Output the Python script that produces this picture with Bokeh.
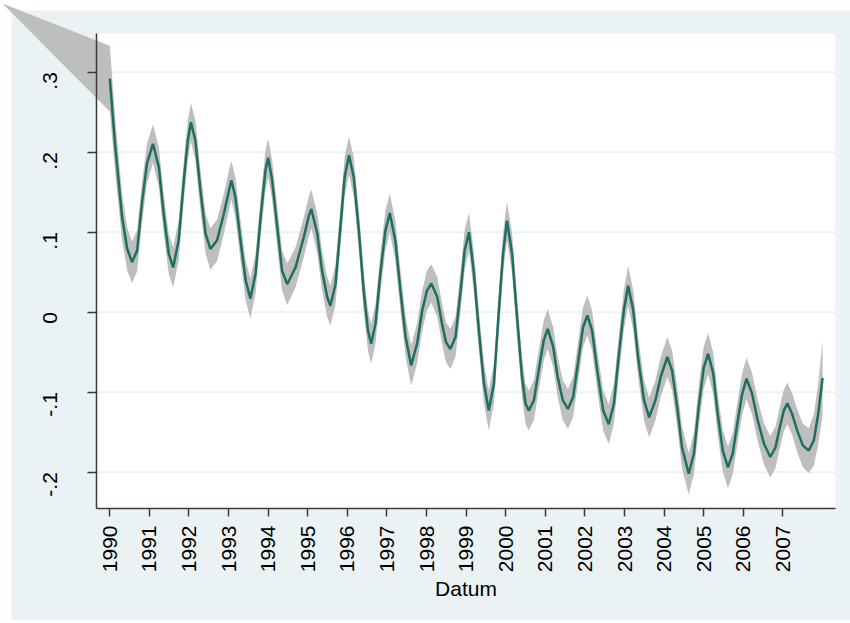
from bokeh.plotting import figure
from bokeh.models import FixedTicker, ColumnDataSource
from bokeh.embed import file_html
from bokeh.resources import INLINE
from math import pi

# ---------------- data ----------------
dates = [
    1990.00, 1990.14, 1990.31, 1990.44, 1990.56, 1990.69, 1990.82, 1990.94,
    1991.09, 1991.24, 1991.36, 1991.49, 1991.60, 1991.74, 1991.87, 1991.97,
    1992.05, 1992.16, 1992.29, 1992.42, 1992.54, 1992.71, 1992.88,
    1993.01, 1993.07, 1993.17, 1993.30, 1993.43, 1993.55, 1993.68, 1993.81, 1993.93,
    1994.00, 1994.10, 1994.23, 1994.35, 1994.48, 1994.69, 1994.90,
    1995.03, 1995.09, 1995.24, 1995.36, 1995.49, 1995.57, 1995.70, 1995.83, 1995.93,
    1996.04, 1996.16, 1996.29, 1996.41, 1996.52, 1996.60, 1996.71, 1996.84, 1996.96,
    1997.07, 1997.21, 1997.34, 1997.47, 1997.61, 1997.76, 1997.89,
    1998.01, 1998.12, 1998.27, 1998.39, 1998.49, 1998.60, 1998.73, 1998.86, 1998.96,
    1999.07, 1999.19, 1999.32, 1999.45, 1999.57, 1999.70, 1999.82, 1999.93,
    2000.03, 2000.16, 2000.29, 2000.41, 2000.50, 2000.58, 2000.71, 2000.83, 2000.96,
    2001.06, 2001.20, 2001.31, 2001.44, 2001.57, 2001.70, 2001.82, 2001.95,
    2002.06, 2002.18, 2002.31, 2002.46, 2002.60, 2002.73, 2002.85, 2002.98,
    2003.09, 2003.22, 2003.34, 2003.49, 2003.62, 2003.78, 2003.91,
    2004.08, 2004.20, 2004.33, 2004.45, 2004.62, 2004.75, 2004.87,
    2005.00, 2005.11, 2005.24, 2005.35, 2005.48, 2005.61, 2005.73, 2005.86, 2005.97,
    2006.08, 2006.22, 2006.36, 2006.52, 2006.68, 2006.81, 2006.92,
    2007.02, 2007.11, 2007.23, 2007.36, 2007.50, 2007.65, 2007.78, 2007.89,
    2008.00,
]

fitted = [
    0.292, 0.206, 0.119, 0.079, 0.0625, 0.077, 0.140, 0.186,
    0.2105, 0.181, 0.123, 0.073, 0.056, 0.090, 0.165, 0.215,
    0.2375, 0.215, 0.152, 0.098, 0.079, 0.090, 0.123,
    0.152, 0.165, 0.144, 0.090, 0.040, 0.017, 0.048, 0.119, 0.177,
    0.193, 0.165, 0.106, 0.052, 0.035, 0.056, 0.094,
    0.121, 0.129, 0.098, 0.052, 0.019, 0.008, 0.035, 0.110, 0.169,
    0.196, 0.169, 0.102, 0.027, -0.023, -0.0395, -0.0145, 0.052, 0.102,
    0.124, 0.090, 0.027, -0.031, -0.0665, -0.0395, 0.002,
    0.027, 0.036, 0.019, -0.0145, -0.0375, -0.046, -0.031, 0.027, 0.077,
    0.100, 0.052, -0.023, -0.0895, -0.123, -0.0895, -0.002, 0.073,
    0.1145, 0.073, -0.010, -0.081, -0.1145, -0.123, -0.110, -0.073, -0.035,
    -0.021, -0.044, -0.081, -0.110, -0.121, -0.106, -0.0645, -0.019,
    -0.004, -0.023, -0.073, -0.123, -0.140, -0.1145, -0.056, 0.002,
    0.033, 0.002, -0.056, -0.110, -0.1315, -0.110, -0.081,
    -0.056, -0.073, -0.119, -0.169, -0.202, -0.177, -0.119,
    -0.069, -0.052, -0.077, -0.127, -0.173, -0.194, -0.177, -0.135, -0.102,
    -0.083, -0.102, -0.135, -0.1645, -0.181, -0.169, -0.144,
    -0.123, -0.114, -0.127, -0.148, -0.1665, -0.173, -0.160, -0.127,
    -0.082,
]

ci_half = [
    0.041, 0.034, 0.029, 0.027, 0.026, 0.026, 0.025, 0.025,
    0.024, 0.025, 0.025, 0.025, 0.025, 0.025, 0.025, 0.025,
    0.024, 0.025, 0.025, 0.025, 0.026, 0.026, 0.025,
    0.025, 0.024, 0.025, 0.025, 0.025, 0.025, 0.025, 0.025, 0.025,
    0.024, 0.025, 0.025, 0.025, 0.026, 0.025, 0.025,
    0.025, 0.024, 0.025, 0.025, 0.025, 0.025, 0.025, 0.025, 0.025,
    0.024, 0.025, 0.025, 0.025, 0.025, 0.025, 0.025, 0.025, 0.025,
    0.024, 0.025, 0.025, 0.025, 0.025, 0.025, 0.025,
    0.025, 0.024, 0.025, 0.025, 0.025, 0.025, 0.025, 0.025, 0.025,
    0.024, 0.025, 0.025, 0.025, 0.025, 0.025, 0.025, 0.025,
    0.024, 0.025, 0.025, 0.025, 0.025, 0.025, 0.025, 0.025, 0.025,
    0.025, 0.025, 0.025, 0.025, 0.025, 0.025, 0.025, 0.025,
    0.025, 0.025, 0.025, 0.025, 0.025, 0.025, 0.025, 0.025,
    0.025, 0.025, 0.025, 0.025, 0.025, 0.025, 0.025,
    0.025, 0.025, 0.025, 0.026, 0.026, 0.026, 0.026,
    0.026, 0.026, 0.026, 0.026, 0.026, 0.026, 0.026, 0.026, 0.026,
    0.026, 0.026, 0.026, 0.026, 0.026, 0.026, 0.026,
    0.026, 0.026, 0.026, 0.027, 0.027, 0.028, 0.032, 0.038,
    0.047,
]

# stray first vertex of the confidence-band polygon (lies outside the plot region)
band_origin_date = 1987.29
band_origin_value = 0.386

x_tick_years = list(range(1990, 2008))
y_ticks = [-0.2, -0.1, 0, 0.1, 0.2, 0.3]
y_tick_labels = ["-.2", "-.1", "0", ".1", ".2", ".3"]
x_title = "Datum"

# ---------------- layout (data coordinates of the regions) ----------------
VIEW_X = (1987.24, 2008.705)      # whole canvas
VIEW_Y = (-0.3854, 0.3896)
PLOT_X = (1989.664, 2008.326)     # white plot region
PLOT_Y = (-0.2454, 0.3484)
GRAPH_LEFT = 1987.518             # light graph-region background
GRAPH_TOP = 0.3771

BG = "#EAF2F3"
BAND = "#BEBEBE"
LINE = "#1E6E62"
AXIS = "#3A3A3A"
FONT = "Liberation Sans"

ci_lo = [f - h for f, h in zip(fitted, ci_half)]
ci_hi = [f + h for f, h in zip(fitted, ci_half)]

# band polygon: stray origin vertex, upper bound forward, lower bound backward
band_x = [band_origin_date] + dates + dates[::-1]
band_y = [band_origin_value] + ci_hi + ci_lo[::-1]

p = figure(width=850, height=620, x_range=VIEW_X, y_range=VIEW_Y,
           output_backend="svg", toolbar_location=None, min_border=0)
p.background_fill_color = "white"
p.border_fill_color = "white"
p.outline_line_color = None
p.xgrid.visible = False
p.ygrid.visible = False

# graph background and white plot region
p.quad(left=[GRAPH_LEFT], right=[VIEW_X[1]], bottom=[VIEW_Y[0]], top=[GRAPH_TOP],
       fill_color=BG, line_color=None, level="image")
p.quad(left=[PLOT_X[0]], right=[PLOT_X[1]], bottom=[PLOT_Y[0]], top=[PLOT_Y[1]],
       fill_color="white", line_color=None, level="image")

# horizontal grid lines at the y ticks
p.segment(x0=[PLOT_X[0]] * len(y_ticks), x1=[PLOT_X[1]] * len(y_ticks),
          y0=y_ticks, y1=y_ticks, line_color=BG, line_width=2, level="underlay")

# confidence band and fitted line
p.patch(x=band_x, y=band_y, fill_color=BAND, fill_alpha=1.0, line_color=None)
src = ColumnDataSource(dict(x=dates, y=fitted))
p.line(x="x", y="y", source=src, line_color=LINE, line_width=2.5)

# x axis
xa = p.xaxis[0]
xa.fixed_location = PLOT_Y[0]
xa.bounds = PLOT_X
xa.ticker = FixedTicker(ticks=x_tick_years)
xa.major_label_orientation = pi / 2
xa.axis_label = x_title
xa.axis_label_text_font = FONT
xa.axis_label_text_font_size = "21px"
xa.axis_label_text_font_style = "normal"
xa.axis_label_text_color = "black"
xa.axis_label_standoff = 2
xa.major_label_standoff = 9
xa.major_tick_out = 8
xa.major_tick_in = 0
xa.minor_tick_out = 0
xa.minor_tick_in = 0

# y axis
ya = p.yaxis[0]
ya.fixed_location = PLOT_X[0]
ya.bounds = PLOT_Y
ya.ticker = FixedTicker(ticks=y_ticks)
ya.major_label_overrides = {t: s for t, s in zip(y_ticks, y_tick_labels)}
ya.major_label_orientation = pi / 2
ya.major_label_standoff = 37
ya.major_tick_out = 9
ya.major_tick_in = 0
ya.minor_tick_out = 0
ya.minor_tick_in = 0

for ax in (xa, ya):
    ax.major_label_text_font = FONT
    ax.major_label_text_font_size = "21px"
    ax.major_label_text_color = "black"
    ax.axis_line_color = AXIS
    ax.axis_line_width = 1.5
    ax.major_tick_line_color = AXIS
    ax.major_tick_line_width = 1.5

open("out.html", "w").write(file_html(p, INLINE))
